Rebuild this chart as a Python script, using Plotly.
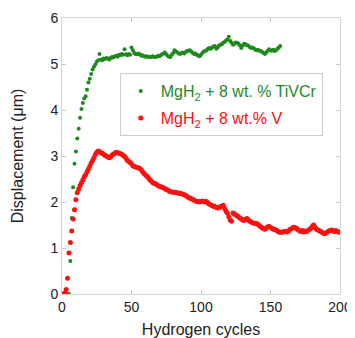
import plotly.graph_objects as go

green_cycles = list(range(1, 158))
green_disp = [
    0, 0, 0, 0, 0, 0.72, 1.65, 2.32, 2.83, 3.10,
    3.38, 3.59, 3.83, 4.02, 4.15, 4.25, 4.30, 4.44, 4.60, 4.68,
    4.78, 4.88, 4.94, 4.99, 5.05, 5.08, 5.22, 5.10, 5.08, 5.12,
    5.11, 5.13, 5.12, 5.10, 5.13, 5.15, 5.14, 5.17, 5.18, 5.16,
    5.20, 5.19, 5.22, 5.20, 5.32, 5.21, 5.19, 5.22, 5.20, 5.36,
    5.30, 5.24, 5.22, 5.21, 5.23, 5.21, 5.18, 5.19, 5.17, 5.16,
    5.17, 5.15, 5.16, 5.15, 5.17, 5.16, 5.15, 5.16, 5.18, 5.17,
    5.19, 5.21, 5.23, 5.25, 5.21, 5.18, 5.16, 5.15, 5.20, 5.24,
    5.30, 5.27, 5.25, 5.23, 5.22, 5.24, 5.25, 5.23, 5.26, 5.28,
    5.29, 5.30, 5.27, 5.24, 5.22, 5.23, 5.20, 5.18, 5.17, 5.20,
    5.24, 5.27, 5.28, 5.30, 5.33, 5.35, 5.33, 5.36, 5.38, 5.39,
    5.33, 5.36, 5.40, 5.42, 5.43, 5.46, 5.48, 5.51, 5.53, 5.59,
    5.50, 5.46, 5.42, 5.44, 5.47, 5.46, 5.44, 5.40, 5.35, 5.40,
    5.44, 5.43, 5.41, 5.40, 5.37, 5.35, 5.36, 5.34, 5.31, 5.30,
    5.31, 5.29, 5.28, 5.26, 5.24, 5.22, 5.25, 5.29, 5.32, 5.30,
    5.29, 5.31, 5.28, 5.30, 5.33, 5.36, 5.39,
]

red_cycles = list(range(1, 201))
red_disp = [
    0, 0.02, 0.10, 0.34, 0.89, 1.12, 1.37, 1.63, 1.83, 2.05,
    2.20, 2.28, 2.36, 2.42, 2.48, 2.55, 2.59, 2.66, 2.72, 2.78,
    2.85, 2.90, 2.96, 3.03, 3.08, 3.11, 3.09, 3.07, 3.06, 3.04,
    3.01, 3.00, 2.98, 2.96, 2.98, 3.02, 3.04, 3.06, 3.08, 3.07,
    3.06, 3.05, 3.04, 3.01, 2.99, 2.95, 2.91, 2.88, 2.86, 2.83,
    2.79, 2.77, 2.76, 2.75, 2.74, 2.73, 2.70, 2.66, 2.62, 2.59,
    2.56, 2.53, 2.49, 2.46, 2.43, 2.41, 2.40, 2.38, 2.36, 2.34,
    2.33, 2.32, 2.31, 2.29, 2.27, 2.26, 2.24, 2.23, 2.22, 2.21,
    2.21, 2.20, 2.20, 2.19, 2.19, 2.18, 2.17, 2.16, 2.14, 2.12,
    2.10, 2.08, 2.07, 2.06, 2.04, 2.02, 2.01, 2.01, 2.00, 2.01,
    2.02, 2.01, 2.00, 2.01, 1.98, 1.95, 1.94, 1.92, 1.91, 1.90,
    1.88, 1.87, 1.88, 1.90, 1.91, 1.93, 1.86, 1.80, 1.76, 1.68,
    1.61, 1.58, 1.76, 1.74, 1.72, 1.70, 1.68, 1.65, 1.63, 1.61,
    1.60, 1.62, 1.64, 1.61, 1.58, 1.57, 1.55, 1.54, 1.54, 1.53,
    1.51, 1.49, 1.46, 1.44, 1.42, 1.41, 1.43, 1.46, 1.47, 1.45,
    1.43, 1.41, 1.40, 1.39, 1.37, 1.35, 1.34, 1.34, 1.35, 1.36,
    1.36, 1.35, 1.37, 1.40, 1.42, 1.44, 1.45, 1.44, 1.42, 1.39,
    1.37, 1.36, 1.38, 1.35, 1.37, 1.36, 1.38, 1.40, 1.43, 1.47,
    1.50, 1.45, 1.41, 1.39, 1.38, 1.36, 1.34, 1.32, 1.31, 1.33,
    1.35, 1.37, 1.38, 1.39, 1.37, 1.36, 1.38, 1.36, 1.35, 1.34,
]

x_ticks = [0, 50, 100, 150, 200]
y_ticks = [0, 1, 2, 3, 4, 5, 6]

GREEN = "#1e8a1e"
RED = "#ff1010"

fig = go.Figure()
fig.add_trace(go.Scatter(
    x=green_cycles, y=green_disp, mode="markers", legendgroup="g",
    marker=dict(color=GREEN, size=4, line=dict(width=0)),
    name=f"<span style='color:{GREEN}'>MgH<sub>2</sub> + 8 wt. % TiVCr</span>",
))
fig.add_trace(go.Scatter(
    x=red_cycles, y=red_disp, mode="markers", legendgroup="r",
    marker=dict(color=RED, size=5, line=dict(width=0)),
    name=f"<span style='color:{RED}'>MgH<sub>2</sub> + 8 wt.% V</span>",
))

axis_common = dict(
    showline=True, linecolor="#d4d4d4", linewidth=1, mirror="ticks",
    ticks="inside", ticklen=4, tickcolor="#c8c8c8", tickwidth=1,
    showgrid=False, zeroline=False, automargin=False,
    tickfont=dict(family="Liberation Sans, Arial", size=14, color="#222"),
)

# page body has an 8px margin, so the figure is sized/placed to compensate
fig.update_layout(
    width=347, height=330,
    margin=dict(l=53.5, r=15, t=10, b=44, autoexpand=False),
    paper_bgcolor="white", plot_bgcolor="white",
    font=dict(family="Liberation Sans, Arial", color="#222"),
    xaxis=dict(range=[0, 200], tickvals=x_ticks,
               title=dict(text="Hydrogen cycles", font=dict(size=16, color="#222"), standoff=10),
               **axis_common),
    yaxis=dict(range=[0, 6], tickvals=y_ticks,
               title=dict(text="Displacement (μm)", font=dict(size=16, color="#222"), standoff=22),
               **axis_common),
    legend=dict(
        x=0.2077, y=0.80, xanchor="left", yanchor="top",
        bgcolor="white", bordercolor="#cccccc", borderwidth=1,
        font=dict(family="Liberation Sans, Arial", size=16),
        tracegroupgap=3,
    ),
    showlegend=True,
)

fig.write_html("out.html")
